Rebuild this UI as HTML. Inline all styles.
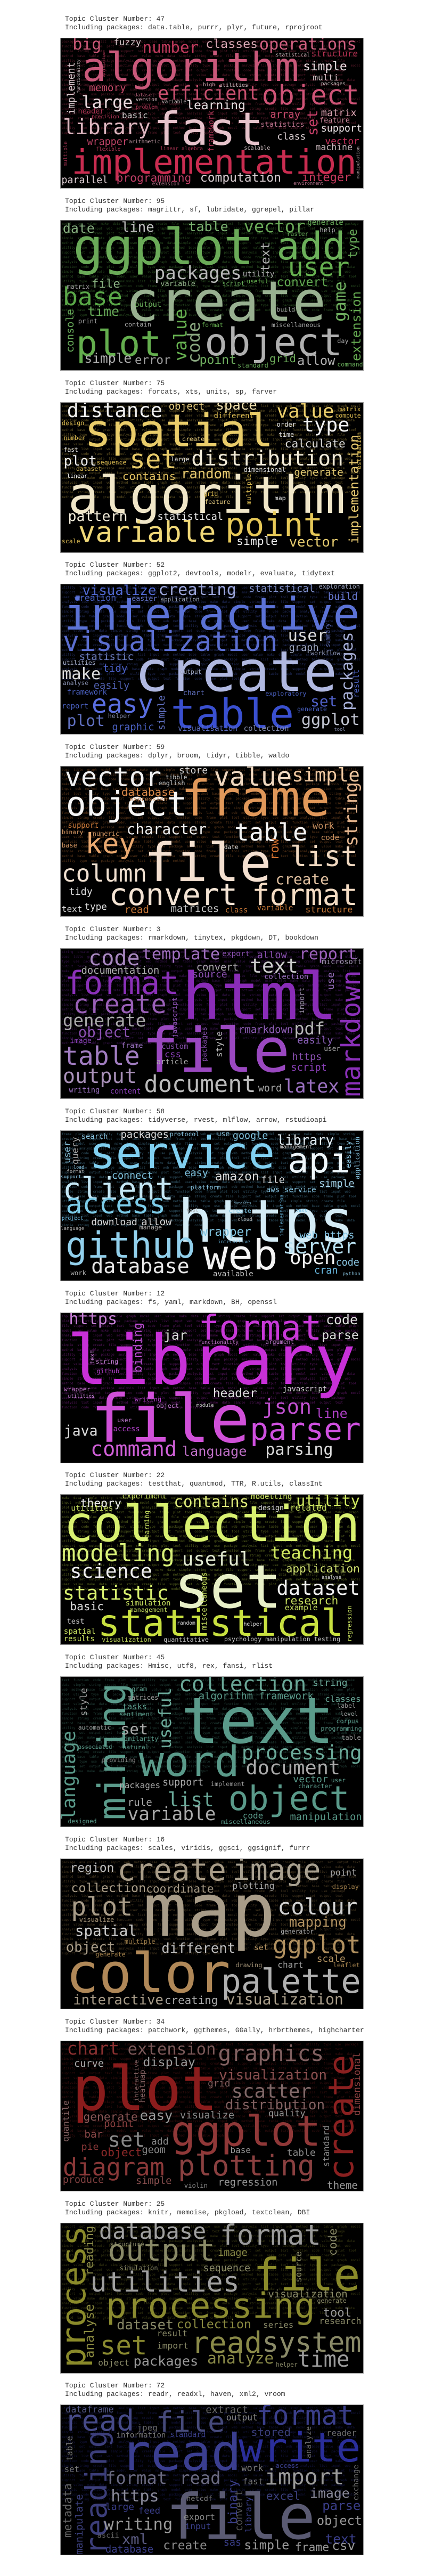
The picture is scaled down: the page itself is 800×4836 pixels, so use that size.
<!DOCTYPE html>
<html><head><meta charset="utf-8">
<style>
html,body{margin:0;padding:0;background:#fff;}
body{width:800px;height:4836px;position:relative;overflow:hidden;}
.title{position:absolute;left:122px;font-family:"Liberation Mono","DejaVu Sans Mono",monospace;font-size:13px;line-height:16px;color:#333;white-space:pre;}
.cloud{position:absolute;left:113px;width:570px;height:283px;background:#000;border:1px solid #999;box-sizing:border-box;overflow:hidden;}
.w{position:absolute;font-family:"DejaVu Sans Mono","Liberation Mono",monospace;line-height:1;white-space:nowrap;}
.f{position:absolute;left:2px;right:2px;font-family:"DejaVu Sans Mono",monospace;font-size:6px;line-height:9px;white-space:normal;word-spacing:4px;opacity:.45;overflow:hidden;}
</style></head>
<body>
<script>
// Panel metadata
const clusterNumbers=[47,95,75,52,59,3,58,12,22,45,16,34,25,72];
const packageLists=[
"data.table, purrr, plyr, future, rprojroot",
"magrittr, sf, lubridate, ggrepel, pillar",
"forcats, xts, units, sp, farver",
"ggplot2, devtools, modelr, evaluate, tidytext",
"dplyr, broom, tidyr, tibble, waldo",
"rmarkdown, tinytex, pkgdown, DT, bookdown",
"tidyverse, rvest, mlflow, arrow, rstudioapi",
"fs, yaml, markdown, BH, openssl",
"testthat, quantmod, TTR, R.utils, classInt",
"Hmisc, utf8, rex, fansi, rlist",
"scales, viridis, ggsci, ggsignif, furrr",
"patchwork, ggthemes, GGally, hrbrthemes, highcharter",
"knitr, memoise, pkgload, textclean, DBI",
"readr, readxl, haven, xml2, vroom"];
const themeColors=["#c03a5c","#5aa848","#d8b850","#4a60c8","#c87838","#7a2ca8","#6ab8e0","#b830c8","#b8d040","#4a8a7a","#9a7a48","#7a2020","#7a7a28","#2a2e8a"];
// reading frame of each panel's measurements: [originX, scaleX, originY, scaleY]
const frames=[[222,1.94,213,2.99],[35,2.59,155,2.44],[35,2.59,993,2.44],[35,2.59,272,2.44],[35,2.59,1110,2.44],[35,2.59,392,2.44],[5,2.71,5,3.0],[35,2.59,510,2.44],[35,2.59,1348,2.44],[35,2.59,630,2.44],[35,2.59,1467,2.44],[35,2.59,748,2.44],[5,2.71,5,3.0],[222,1.94,222,2.99]];
// words: [text, x1|xc, baseline|bottom, x2|top, color, vertical]
const words=[
[["algorithm",300,455,1090,"#c9587a"],["fast",560,815,960,"#e6c3cb"],["implementation",262,975,1300,"#c92c50"],["object",955,585,1310,"#cf5477"],["efficient",575,560,945,"#c8506f"],["library",230,755,550,"#dcb6bf"],["large",298,605,485,"#e6d6da"],["big",265,280,370,"#c95775"],["number",520,295,725,"#c03a5c"],["classes",750,270,940,"#d8a8b4"],["operations",945,280,1300,"#d06080"],["structure",1135,318,1305,"#b03050"],["simple",1105,395,1265,"#e8dde0"],["multi",1140,450,1235,"#d9c5ca"],["memory",325,510,460,"#c84a6a"],["learning",680,615,895,"#e5dfe1"],["matrix",1170,655,1300,"#d6a2b0"],["array",985,665,1095,"#c64a6c"],["support",1170,740,1320,"#ece4e6"],["class",1010,785,1115,"#dcd0d3"],["vector",1185,812,1310,"#c8305a"],["machine",1150,845,1285,"#cab8bd"],["wrapper",318,815,468,"#c04468"],["basic",445,665,540,"#d8d0d2"],["header",285,640,380,"#b03656"],["parallel",225,1030,395,"#e0cfd4"],["programming",425,1020,698,"#c04068"],["computation",730,1020,1025,"#d8ccd0"],["integer",1100,1020,1280,"#c83a5e"],["statistics",950,715,1110,"#b6708a"],["feature",1165,690,1275,"#cc8a9c"],["set",1140,760,615,"#c8406a",1],["implement",262,640,345,"#d8c8cc",1],["framework",770,850,620,"#b03858",1],["fuzzy",415,255,515,"#d8c8cc"],["precision",335,665,435,"#b03656"],["arithmetic",470,805,585,"#c8a0ac"],["flexible",350,848,440,"#b03656"],["linear algebra",585,845,740,"#b03656"],["scalable",890,842,985,"#c8b8bc"],["dataset",490,540,565,"#b06078"],["version",495,570,575,"#c8b8bc"],["problem",495,610,575,"#b03656"],["variable",590,582,680,"#c8b8bc"],["statistical",1005,318,1130,"#c8b8bc"],["high",740,485,785,"#c8a0ac"],["utilities",800,488,905,"#c8b8bc"],["packages",1170,480,1260,"#c8b8bc"],["extension",555,1040,655,"#b07088"],["environment",1070,1040,1180,"#b07088"],["multiple",240,930,790,"#a03050",1],["manipulation",1305,1000,820,"#c8b8bc",1],["functionality",285,520,330,"#c8b8bc",1],["optimization",380,430,280,"#b03656",1]],
[["ggplot",95,360,975,"#6aaa58"],["add",1085,335,1420,"#6cb05a"],["create",350,615,1325,"#98b090"],["plot",110,775,525,"#64ae4e"],["object",735,775,1405,"#b0b0b0"],["user",1140,410,1440,"#66b050"],["packages",490,425,915,"#b8b8b8"],["base",45,545,335,"#5aa848"],["table",655,205,850,"#7ab070"],["vector",925,210,1225,"#6aaa58"],["date",45,215,200,"#88b080"],["line",330,210,490,"#c0c0c0"],["file",185,465,325,"#88b080"],["time",165,595,320,"#66a858"],["convert",1085,458,1335,"#60a850"],["simple",150,810,380,"#b0b0b0"],["error",395,815,570,"#a0a0a0"],["point",710,815,890,"#70b060"],["grid",1050,805,1180,"#6aa858"],["allow",1185,820,1370,"#b0b0b0"],["game",1395,620,435,"#70b060",1],["value",615,800,560,"#66b050",1],["code",680,810,620,"#8aa880",1],["extension",1470,800,480,"#64a850",1],["text",1030,390,255,"#b0b0b0",1],["type",1455,330,195,"#66a858",1],["console",80,760,560,"#66a858",1],["contain",345,645,475,"#b0b0b0"],["output",395,555,525,"#66a858"],["variable",520,460,690,"#90b088"],["utility",920,415,1075,"#aaaaaa"],["useful",940,445,1045,"#66b050"],["script",820,455,930,"#66a858"],["miscellaneous",1060,645,1300,"#aaaaaa"],["format",720,645,825,"#66b050"],["build",1085,575,1175,"#aaaaaa"],["help",1295,210,1370,"#bbbbbb"],["generate",1235,178,1410,"#66a858"],["raster",1135,228,1240,"#66a858"],["matrix",65,470,175,"#aaaaaa"],["print",120,628,215,"#aaaaaa"],["day",1380,720,1435,"#aaaaaa"],["command",1380,825,1505,"#66a858"],["standard",895,830,1045,"#66a858"]],
[["distance",65,1060,530,"#eeeeee"],["spatial",150,1195,1070,"#e9cc6a"],["algorithm",70,1500,1420,"#f0e6c8"],["value",1085,1065,1365,"#e9cc6a"],["type",1210,1130,1440,"#f0f0f0"],["set",370,1295,600,"#e9cc6a"],["distribution",670,1285,1410,"#f0ead8"],["random",620,1345,860,"#e6c870"],["plot",50,1285,210,"#eeeeee"],["object",560,1030,735,"#e6cc80"],["space",790,1030,990,"#f0e0b0"],["calculate",1125,1198,1420,"#dddddd"],["generate",1170,1330,1410,"#e0c870"],["contains",335,1350,595,"#e0c060"],["pattern",70,1540,360,"#f0ead8"],["statistical",505,1535,825,"#eeeeee"],["point",835,1608,1310,"#e6c858"],["variable",120,1631,790,"#f0d878"],["simple",890,1648,1090,"#eeeeee"],["vector",1145,1656,1385,"#e6cc70"],["implementation",1460,1640,1140,"#e6c870",1],["dimensional",925,1315,1130,"#dddddd"],["feature",735,1460,860,"#e6cc80"],["linear",65,1340,165,"#eeeeee"],["fast",50,1220,120,"#eeeeee"],["number",50,1165,155,"#d8b850"],["design",40,1098,150,"#d8b850"],["dataset",110,1308,235,"#d8b850"],["sequence",210,1280,355,"#d8b850"],["different",780,1068,975,"#d8b850"],["order",1085,1105,1180,"#eeeeee"],["time",1095,1150,1170,"#dddddd"],["estimation",1485,1300,1130,"#d8b850",1],["create",625,1173,735,"#e6cc80"],["large",570,1265,660,"#dddddd"],["grid",730,1422,800,"#d8b850"],["map",1075,1443,1130,"#eeeeee"],["matrix",1385,1035,1495,"#d8b850"],["compute",1370,1065,1495,"#d8b850"],["multiple",950,1460,1320,"#d8b850",1],["scale",40,1641,130,"#d8b850"]],
[["interactive",50,480,1490,"#5b72d6"],["visualization",45,580,1090,"#5b6ed0"],["create",395,760,1380,"#b0b8e0"],["table",570,935,1170,"#3a50d0"],["easy",185,860,485,"#5a6ee0"],["plot",65,920,250,"#6070c0"],["user",1140,535,1330,"#d8d8d8"],["graph",1145,580,1290,"#a0a8c0"],["packages",1430,850,490,"#a8b0d8",1],["ggplot",1205,920,1490,"#c0c4d0"],["creating",510,325,890,"#9aa4d8"],["visualize",140,325,500,"#5068d0"],["statistical",950,310,1270,"#8090c8"],["build",1335,347,1480,"#6878d0"],["make",40,710,230,"#d8d8d8"],["statistic",125,620,390,"#7080c0"],["tidy",240,673,360,"#4a60c8"],["easily",195,755,370,"#5060b0"],["set",1250,830,1380,"#5060c8"],["graphic",285,945,490,"#4a60c0"],["simple",525,940,780,"#6070c0",1],["visualisation",605,945,895,"#6070c0"],["collection",925,945,1145,"#8890b0"],["framework",65,780,260,"#4a60c0"],["report",40,845,170,"#4a60c0"],["chart",630,783,735,"#6070c0"],["output",615,683,720,"#a0a8c0"],["exploratory",1030,783,1230,"#4a60c0"],["generate",1185,855,1330,"#4a60c0"],["result",1475,790,660,"#4a60c0",1],["summary",1335,560,450,"#6070c0",1],["workflow",1250,598,1395,"#8890b0"],["exploration",1290,293,1490,"#a0a8c0"],["creation",100,348,305,"#4a60c0"],["application",520,350,710,"#a0a8c0"],["easier",380,350,505,"#6070c0"],["utilities",45,640,205,"#a0a8c0"],["analyse",45,735,170,"#8890b0"],["tool",1365,945,1420,"#8890b0"],["helper",265,885,375,"#8890b0"]],
[["frame",620,1335,1345,"#e0985a"],["vector",55,1200,525,"#f0f0f0"],["value",780,1200,1160,"#f0d8c0"],["simple",1160,1180,1490,"#f0c8a0"],["object",60,1335,650,"#f6f6f6"],["file",440,1636,1060,"#f4e0d0"],["list",1150,1570,1480,"#f0d8c0"],["character",355,1420,745,"#eeeeee"],["table",880,1450,1235,"#f4f4f4"],["key",155,1510,400,"#e8a870"],["string",1445,1475,1180,"#e8b890",1],["convert",270,1746,895,"#f4e4d4"],["format",965,1746,1480,"#f4dcc4"],["column",40,1641,455,"#f0e0d0"],["create",1080,1651,1340,"#e0c0a0"],["database",330,1245,590,"#d8884a"],["store",610,1145,750,"#dddddd"],["tibble",545,1170,650,"#cccccc"],["english",510,1197,640,"#cccccc"],["expression",370,1270,555,"#c08050"],["support",70,1395,220,"#c87838"],["work",1260,1395,1365,"#c89060"],["code",1300,1450,1390,"#c89060"],["matrices",570,1781,805,"#cccccc"],["read",345,1781,465,"#c87838"],["text",40,1776,140,"#dddddd"],["type",150,1771,260,"#dddddd"],["structure",1225,1781,1455,"#c87838"],["class",835,1781,945,"#c87838"],["variable",990,1771,1165,"#c87838"],["tidy",75,1701,190,"#dddddd"],["row",1075,1540,1440,"#d07030",1],["date",830,1490,900,"#dddddd"],["base",40,1480,115,"#c89060"],["binary",40,1420,145,"#c89060"],["numeric",190,1430,320,"#c89060"]],
[["html",625,715,1380,"#8a2cb8"],["file",430,960,1150,"#9a48c0"],["format",55,600,610,"#8a30b8"],["create",95,690,550,"#9a60b8"],["markdown",1445,1070,490,"#8a30b8",1],["code",170,470,420,"#a888c0"],["template",430,445,810,"#a070c0"],["text",955,505,1190,"#cccccc"],["report",1195,445,1475,"#9a60b8"],["documentation",135,512,515,"#b0b0b0"],["generate",45,750,450,"#aaaaaa"],["object",120,800,375,"#8a50b0"],["table",45,925,420,"#a07cc0"],["output",45,1010,405,"#a890b8"],["document",440,1050,985,"#bbbbbb"],["latex",1120,1055,1390,"#9a70c0"],["pdf",1170,785,1320,"#b8b8b8"],["rmarkdown",900,780,1165,"#9060b8"],["https",1160,905,1305,"#8a50b0"],["script",1155,955,1330,"#8a40b8"],["easily",1185,830,1360,"#8a60b8"],["word",995,1050,1110,"#aaaaaa"],["convert",695,497,900,"#aaaaaa"],["source",675,527,845,"#8a50b0"],["collection",1025,535,1240,"#9a70c0"],["allow",990,440,1135,"#8a50b0"],["export",820,428,955,"#8a50b0"],["microsoft",1305,468,1500,"#9a90a8"],["style",805,890,770,"#bbbbbb",1],["custom",525,855,655,"#8a50b0"],["css",540,893,620,"#8a40b8"],["article",500,925,655,"#aaaaaa"],["frame",330,850,435,"#9a70c0"],["image",80,828,185,"#8a40b8"],["writing",75,1055,225,"#9a70c0"],["content",275,1060,425,"#8a40b8"],["use",1350,580,500,"#9a70c0",1],["import",1210,690,570,"#9a90a8",1],["packages",735,910,750,"#8a50b0",1],["javascript",590,800,615,"#8a50b0",1],["user",1315,865,1395,"#aaaaaa"]],
[["service",150,220,1095,"#80cff0"],["https",600,635,1500,"#d4ecf6"],["client",15,395,580,"#c4e6f4"],["access",30,475,540,"#7ccbe8"],["api",1160,245,1480,"#eef6fa"],["github",30,720,690,"#92d0ec"],["web",730,790,1110,"#f4f4f4"],["database",160,810,660,"#e6e6e6"],["server",1135,700,1510,"#b8e0f0"],["open",1170,760,1405,"#f0f0f0"],["code",1405,770,1525,"#88c4e0"],["cran",1295,815,1415,"#68b8e0"],["web https",1220,615,1500,"#88c8e8"],["wrapper",715,600,975,"#80c4e0"],["download",160,540,395,"#dddddd"],["allow",415,540,570,"#dddddd"],["library",1105,85,1395,"#e4eef4"],["google",880,55,1060,"#80c4e0"],["packages",310,50,555,"#dddddd"],["protocol",560,38,710,"#88c4e0"],["search",110,55,245,"#88c4e0"],["connect",265,280,475,"#80c4e0"],["easy",635,265,755,"#80c4e0"],["amazon",790,290,1015,"#dddddd"],["file",1025,305,1145,"#dddddd"],["simple",1320,325,1500,"#a8d8ee"],["platform",665,340,820,"#88c4e0"],["aws service",1050,355,1305,"#88c4e0"],["available",780,830,985,"#cccccc"],["create",860,472,975,"#80c4e0"],["management",1120,110,1285,"#cccccc"],["manage",405,565,520,"#aaaaaa"],["use",800,40,865,"#88c4e0"],["query",80,195,40,"#aaaaaa",1],["user",40,190,65,"#88c4e0",1],["easily",1470,215,60,"#88c4e0",1],["application",1512,280,40,"#88c4e0",1],["implementation",1130,600,365,"#6ab8e0",1],["load",70,220,125,"#88c4e0"],["format",35,245,125,"#aaaaaa"],["support",5,275,110,"#88c4e0"],["project",10,510,120,"#6ab8e0"],["language",5,565,125,"#aaaaaa"],["interactive",805,640,970,"#6ab8e0"],["python",1440,820,1530,"#88c4e0"],["work",55,820,135,"#aaaaaa"],["cloud",905,515,980,"#aaaaaa"],["tool",645,465,705,"#aaaaaa"],["datasets",885,422,975,"#88c4e0"],["text",1200,465,1260,"#6ab8e0"]],
[["library",65,840,1470,"#c830d8"],["file",180,1105,955,"#d050d8"],["format",705,635,1305,"#c838d8"],["parser",955,1095,1495,"#d050e0"],["https",75,565,310,"#c880d8"],["code",1325,565,1480,"#dddddd"],["jar",535,635,650,"#dddddd"],["parse",1305,635,1485,"#dddddd"],["json",1015,975,1255,"#c050d0"],["line",1275,995,1430,"#b040c8"],["command",180,1170,600,"#d060d8"],["language",625,1165,940,"#c070c8"],["parsing",1030,1165,1360,"#dddddd"],["java",50,1075,215,"#dddddd"],["header",775,900,990,"#dddddd"],["binding",410,785,555,"#c050d8",1],["javascript",1115,875,1330,"#cccccc"],["wrapper",50,873,180,"#c070c8"],["string",205,745,315,"#c880d8"],["github",210,790,320,"#b040c8"],["text",188,745,680,"#c880d8",1],["functionality",705,655,900,"#c070c8"],["argument",1030,655,1170,"#c880d8"],["writing",395,918,525,"#b040c8"],["object",500,948,610,"#c880d8"],["access",290,1058,420,"#b040c8"],["user",310,1013,380,"#c880d8"],["module",695,945,780,"#cccccc"],["utilities",70,900,200,"#c880d8"]],
[["collection",50,1560,1490,"#d8f070"],["set",585,1866,1110,"#e8f0c8"],["statistical",215,1996,1410,"#c8e040"],["modeling",40,1656,590,"#d8f078"],["useful",625,1676,960,"#e0e8d0"],["teaching",1055,1641,1455,"#d0e860"],["science",80,1731,480,"#eeeeee"],["statistic",45,1831,560,"#d8f070"],["dataset",1085,1806,1490,"#f0f0f0"],["application",1130,1706,1490,"#d0e070"],["research",1120,1851,1385,"#c8e060"],["basic",80,1876,245,"#dddddd"],["contains",585,1405,950,"#dce878"],["utility",1180,1400,1490,"#d0e860"],["theory",130,1405,330,"#eeeeee"],["experiment",335,1368,550,"#c8e060"],["modelling",960,1370,1160,"#c8e060"],["design",995,1422,1120,"#dddddd"],["related",1150,1422,1330,"#c8e060"],["utilities",85,1423,290,"#c8e060"],["analyse",1305,1736,1400,"#dddddd"],["example",1125,1881,1285,"#c8e060"],["simulation",350,1856,570,"#c8e060"],["management",370,1886,555,"#c8e060"],["test",65,1941,150,"#dddddd"],["spatial",50,1986,205,"#c8e060"],["results",50,2021,200,"#c8e060"],["visualization",235,2024,475,"#c8e060"],["quantitative",535,2024,755,"#cccccc"],["psychology manipulation testing",830,2021,1395,"#cccccc"],["miscellaneous",735,1966,1701,"#c8e060",1],["random",600,1946,690,"#dddddd"],["helper",925,1951,1015,"#dddddd"],["regression",1440,2021,1856,"#c8e060",1],["learning",455,1565,1420,"#c8e060",1]],
[["text",620,935,1365,"#5a9a8a"],["mining",280,1285,655,"#5a9a8a",1],["word",415,1085,905,"#5a9a8a"],["object",850,1240,1440,"#5a9a8a"],["processing",915,1010,1500,"#6aa898"],["document",935,1080,1395,"#aaaaaa"],["collection",610,700,1230,"#6aa898"],["language",75,1285,875,"#5a9a8a",1],["useful",545,960,680,"#6aa898",1],["variable",360,1290,790,"#aaaaaa"],["list",555,1225,780,"#6aa898"],["set",325,895,460,"#aaaaaa"],["support",530,1130,730,"#aaaaaa"],["packages",320,1140,520,"#aaaaaa"],["rule",360,1220,480,"#aaaaaa"],["manipulation",1150,1290,1500,"#5a9a8a"],["algorithm framework",705,735,1265,"#5a9a8a"],["string",1260,675,1430,"#6aa898"],["classes",1320,745,1495,"#6aa898"],["label",1380,772,1470,"#999999"],["level",1395,810,1480,"#999999"],["corpus",1375,845,1485,"#5a9a8a"],["programming",1300,877,1500,"#5a9a8a"],["table",1400,918,1495,"#999999"],["vector",1165,1115,1335,"#5a9a8a"],["user",1350,1115,1420,"#5a9a8a"],["character",1190,1142,1355,"#5a9a8a"],["implement",765,1133,930,"#999999"],["code",920,1280,1020,"#5a9a8a"],["miscellaneous",815,1305,1055,"#5a9a8a"],["sentiment",320,812,485,"#5a9a8a"],["similarity",325,925,510,"#5a9a8a"],["natural",335,965,465,"#5a9a8a"],["tasks",335,780,455,"#5a9a8a"],["matrices",360,735,510,"#999999"],["style",150,810,680,"#999999",1],["automatic",120,872,280,"#999999"],["associated",120,962,285,"#5a9a8a"],["providing",235,1022,400,"#888888"],["designed",70,1303,210,"#5a9a8a"],["gram",380,695,455,"#5a9a8a"]],
[["map",435,1821,1080,"#a89c88"],["color",60,2081,860,"#b08858"],["palette",815,2081,1495,"#b0b0b0"],["create",310,1566,840,"#a89c88"],["image",870,1566,1300,"#a8a090"],["colour",1090,1721,1480,"#d0d0d0"],["ggplot",1065,1901,1495,"#b09060"],["plot",85,1726,385,"#a89c88"],["spatial",105,1821,405,"#cccccc"],["object",60,1896,300,"#a89c88"],["different",525,1901,885,"#bbbbbb"],["interactive",95,2136,535,"#a89c88"],["creating",540,2131,800,"#aaaaaa"],["visualization",840,2136,1410,"#a89c88"],["mapping",1145,1781,1425,"#b09060"],["collection",85,1621,450,"#a89c88"],["coordinate",450,1621,780,"#a89c88"],["region",80,1530,295,"#bbbbbb"],["scale",1280,1941,1420,"#b09060"],["leaflet",1360,1966,1490,"#9a7a48"],["chart",1090,1966,1215,"#aaaaaa"],["drawing",885,1966,1015,"#9a8a70"],["set",975,1886,1045,"#b09060"],["plotting",870,1606,1075,"#aaaaaa"],["display",1355,1606,1485,"#9a7a48"],["generator",1105,1811,1265,"#aaaaaa"],["visualize",125,1756,295,"#9a8a70"],["multiple",345,1856,495,"#9a7a48"],["generate",205,1916,350,"#9a7a48"],["point",1345,1545,1475,"#aaaaaa"]],
[["plot",90,1065,800,"#8a1c1c"],["ggplot",570,1230,1300,"#903838"],["plotting",605,1365,1270,"#8a4040"],["diagram",45,1365,540,"#8a3838"],["create",1395,1385,810,"#8a2020",1],["graphics",800,840,1315,"#806060"],["scatter",865,1010,1255,"#806868"],["distribution",835,1065,1320,"#806060"],["visualization",805,930,1330,"#8a5050"],["set",265,1235,445,"#888888"],["chart",65,810,320,"#8a3030"],["extension",360,815,790,"#7a5858"],["display",435,865,690,"#999999"],["curve",100,870,245,"#aaaaaa"],["generate",145,1115,410,"#8a5858"],["easy",420,1115,580,"#999999"],["visualize",615,1105,880,"#888888"],["quality",1045,1095,1225,"#999999"],["point",245,1145,390,"#8a4040"],["bar",150,1190,240,"#8a4848"],["add",475,1225,560,"#888888"],["pie",135,1250,220,"#8a3838"],["object",230,1278,430,"#8a2828"],["geom",430,1265,545,"#888888"],["base",860,1262,960,"#999999"],["table",1135,1275,1275,"#888888"],["regression",800,1415,1090,"#999999"],["simple",400,1408,575,"#8a5050"],["produce",45,1402,245,"#804040"],["violin",635,1420,750,"#888888"],["theme",1330,1425,1480,"#999999"],["grid",750,960,860,"#806060"],["dimensional",1475,1090,800,"#8a4040",1],["standard",1325,1325,1135,"#888888",1],["quantile",60,1210,1020,"#806060",1],["interactive",405,1025,835,"#806060",1],["heatmap",432,1030,880,"#806060",1]],
[["file",985,385,1530,"#8a8a2a"],["processing",235,540,1300,"#8a8a30"],["utilities",155,395,915,"#a0a0a0"],["output",245,220,790,"#8a8a68"],["format",815,130,1330,"#9a9a9a"],["database",200,95,745,"#a0a0a0"],["read",670,740,1030,"#8a8a48"],["system",1030,735,1535,"#8a8a68"],["set",205,745,445,"#8a8a30"],["process",65,820,20,"#8a8a2a",1],["dataset",290,605,580,"#8a8a68"],["collection",595,600,975,"#8a8a40"],["packages",375,810,705,"#9a9a9a"],["analyze",750,800,1090,"#8a8a48"],["time",1210,815,1475,"#9a9a9a"],["object",195,810,355,"#8a8a68"],["tool",1340,535,1485,"#9a9a9a"],["research",1320,575,1535,"#8a8a68"],["image",805,195,955,"#8a8a48"],["sequence",730,280,970,"#8a8a68"],["visualization",1060,425,1465,"#8a8a68"],["series",1035,595,1190,"#8a8a68"],["import",495,715,655,"#8a8a68"],["result",495,645,650,"#8a8a68"],["analyse",150,765,460,"#8a8a40",1],["reading",150,300,20,"#8a8a48",1],["code",1390,190,35,"#8a8a68",1],["source",1215,340,165,"#8a8a68",1],["helper",1100,815,1210,"#8a8a68"],["generate",1310,455,1460,"#8a8a68"],["structure",255,140,430,"#8a8a68"],["simulation",305,275,500,"#8a8a68"]],
[["read",440,590,880,"#3a3e90"],["write",870,540,1315,"#2a2e9a"],["file",605,975,1150,"#5a5a72"],["reading",350,1060,360,"#3c3e7a",1],["format",935,335,1290,"#3a3e8a"],["read",235,365,490,"#464a88"],["file",570,370,820,"#464a7a"],["import",965,670,1255,"#9a9a9a"],["format",385,665,610,"#6a6a80"],["read",655,665,805,"#6a6a80"],["https",405,765,580,"#8a8a9a"],["writing",380,925,630,"#9a9a9a"],["image",1130,745,1275,"#8a8a9a"],["object",1155,895,1320,"#999999"],["parse",1175,810,1315,"#3a3e8a"],["excel",970,755,1095,"#3a3e7a"],["text",1185,1000,1300,"#3a3e8a"],["csv",1210,1035,1295,"#999999"],["frame",1075,1045,1200,"#999999"],["simple",890,1035,1055,"#999999"],["create",595,1035,755,"#8a8a8a"],["database",385,1055,560,"#3a3e8a"],["xml",445,1005,540,"#5a5a80"],["extract",750,270,905,"#666666"],["output",825,310,940,"#888888"],["dataframe",240,265,415,"#555a88"],["stored",915,395,1060,"#3a3e7a"],["reader",1190,395,1300,"#666666"],["jpeg",500,365,575,"#666666"],["information",425,405,605,"#777777"],["standard",620,405,750,"#3a3e8a"],["fast",885,668,960,"#777777"],["export",670,870,785,"#888888"],["netcdf",680,765,775,"#777777"],["large",385,815,490,"#3a3e8a"],["metadata",245,965,660,"#666666",1],["manipulate",290,1060,720,"#3a3e7a",1],["table",255,535,395,"#777777",1],["binary",850,890,640,"#3a3e8a",1],["convert",872,930,700,"#555555",1],["library",905,935,735,"#3a3e8a",1],["analyze",1125,520,340,"#666666",1],["exchange",1300,755,555,"#666666",1],["work",880,595,960,"#777777"],["access",1005,575,1090,"#3a3e8a"],["set",235,600,290,"#777777"],["feed",505,835,585,"#3a3e8a"],["input",675,920,770,"#3a3e8a"],["sas",815,1015,880,"#3a3e8a"],["ascii",355,970,435,"#666666"]]
];
const fillerWords=["package","data","tool","model","function","method","support","analysis","simple","utility","user","code","base","set","list","string","type","value","frame","table","output","input","create","use","make","plot","graph","text","web","file"];

const CW=570,CH=283,CHAR=0.602,ASC=0.846,PITCH=341.8,TOP0=71;
for(let i=0;i<clusterNumbers.length;i++){
  const top=TOP0+i*PITCH;
  const t=document.createElement('div');
  t.className='title';
  t.style.top=(top-43)+'px';
  t.textContent='Topic Cluster Number: '+clusterNumbers[i]+'\nIncluding packages: '+packageLists[i];
  
  
  document.body.appendChild(t);
  const c=document.createElement('div');
  c.className='cloud';
  c.style.top=top+'px';
  
  
  document.body.appendChild(c);
  // filler texture of tiny words
  const f=document.createElement('div');
  f.className='f';
  f.style.top='2px';f.style.bottom='2px';
  f.style.color=themeColors[i];
  let s='';for(let k=0;k<420;k++){s+=fillerWords[(k*7+i*3)%fillerWords.length]+' ';}
  f.textContent=s;
  
  
  c.appendChild(f);
  const fr=frames[i];
  const px=X=>(X-fr[0])/fr[1], py=Y=>(Y-fr[2])/fr[3];
  words[i].forEach(w=>{
    const [txt,a,b,cc,col,vert]=w;
    const el=document.createElement('span');
    el.className='w';
    el.textContent=txt;
    el.style.color=col;
    el.style.background='transparent';
    if(vert){
      const len=py(b)-py(cc);
      const fs=len/(CHAR*txt.length);
      el.style.fontSize=fs.toFixed(2)+'px';
      el.style.left=(px(a)-0.466*fs).toFixed(1)+'px';
      el.style.top=py(b).toFixed(1)+'px';
      el.style.transformOrigin='0 0';
      el.style.transform='rotate(-90deg)';
    }else{
      const wd=px(cc)-px(a);
      const fs=wd/(CHAR*txt.length);
      el.style.fontSize=fs.toFixed(2)+'px';
      el.style.left=px(a).toFixed(1)+'px';
      el.style.top=(py(b)-ASC*fs).toFixed(1)+'px';
    }
    
    
    c.appendChild(el);
  });
}
</script>
</body></html>
